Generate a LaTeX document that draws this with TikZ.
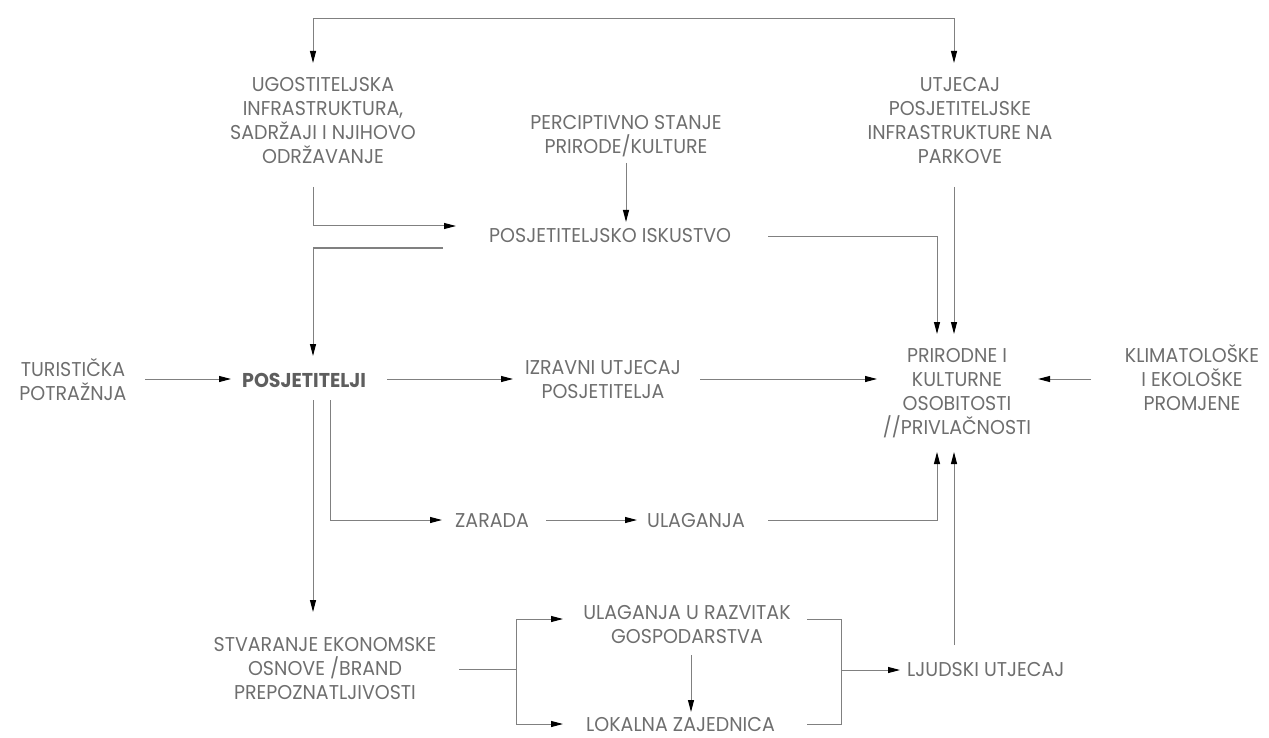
\documentclass[tikz,border=0pt]{standalone}
\usepackage{fontspec}
\setmainfont[FakeStretch=0.95]{Poppins}
\usetikzlibrary{arrows.meta}
\definecolor{txt}{HTML}{6E6E6E}
\definecolor{ln}{HTML}{808080}
\begin{document}
\begin{tikzpicture}[x=1pt,y=-1pt,
 lbl/.style={font=\fontsize{20}{24}\selectfont, text=txt, align=center, inner sep=0pt},
 con/.style={draw=ln, line width=1pt},
 arr/.style={con, -{Triangle[length=12pt,width=6pt,color=black]}},
 arrboth/.style={con, {Triangle[length=12pt,width=6pt,color=black]}-{Triangle[length=12pt,width=6pt,color=black]}}]
\useasboundingbox (0,0) rectangle (1269,738);

\node[lbl] (ugo) at (323,121) {UGOSTITELJSKA\\INFRASTRUKTURA,\\SADRŽAJI I NJIHOVO\\ODRŽAVANJE};
\node[lbl] (utj) at (960,121) {UTJECAJ\\POSJETITELJSKE\\INFRASTRUKTURE NA\\PARKOVE};
\node[lbl] (per) at (626,136) {PERCIPTIVNO STANJE\\PRIRODE/KULTURE};
\node[lbl,anchor=west] (isk) at (489,236) {POSJETITELJSKO ISKUSTVO};
\node[lbl] (tur) at (73,380) {TURISTIČKA\\POTRAŽNJA};
\node[lbl,anchor=west,font=\fontsize{20}{24}\selectfont\bfseries,text=txt!85!black] (pos) at (242,380) {POSJETITELJI};
\node[lbl] (izr) at (603,380) {IZRAVNI UTJECAJ\\POSJETITELJA};
\node[lbl] (pri) at (957,393) {PRIRODNE I\\KULTURNE\\OSOBITOSTI\\//PRIVLAČNOSTI};
\node[lbl] (kli) at (1192,378) {KLIMATOLOŠKE\\I EKOLOŠKE\\PROMJENE};
\node[lbl,anchor=west] (zar) at (455,521) {ZARADA};
\node[lbl,anchor=west] (ula) at (647,521) {ULAGANJA};
\node[lbl] (stv) at (325,669) {STVARANJE EKONOMSKE\\OSNOVE /BRAND\\PREPOZNATLJIVOSTI};
\node[lbl] (urg) at (687,625) {ULAGANJA U RAZVITAK\\GOSPODARSTVA};
\node[lbl,anchor=west] (lok) at (586,725) {LOKALNA ZAJEDNICA};
\node[lbl,anchor=west] (lju) at (907,670) {LJUDSKI UTJECAJ};

% coordinates
\coordinate (ugoin) at (313,63);
\coordinate (tl) at (313,19);
\coordinate (tr) at (954,19);
\coordinate (utjin) at (954,63);
\coordinate (ugoout) at (313,187);
\coordinate (iskin) at (456,226);
\coordinate (iskout1) at (443,248);
\coordinate (posin) at (313,356);
\coordinate (perout) at (626,163);
\coordinate (perin) at (626,222);
\coordinate (iskout2) at (768,237);
\coordinate (prin1) at (937,334);
\coordinate (utjout) at (954,187);
\coordinate (prin2) at (954,334);
\coordinate (turout) at (145,379);
\coordinate (posin2) at (231,379);
\coordinate (posout) at (387,379);
\coordinate (izrin) at (513,379);
\coordinate (izrout) at (700,379);
\coordinate (prin3) at (877,379);
\coordinate (kliout) at (1091,379);
\coordinate (prin4) at (1038,379);
\coordinate (posd1) at (313,400);
\coordinate (stvin) at (313,612);
\coordinate (posd2) at (330,400);
\coordinate (zarin) at (442,520);
\coordinate (zarout) at (546,520);
\coordinate (ulain) at (637,520);
\coordinate (ulaout) at (768,520);
\coordinate (prin5) at (937,452);
\coordinate (ljuout) at (954,645);
\coordinate (prin6) at (954,452);
\coordinate (stvout) at (459,669);
\coordinate (j1) at (516,669);
\coordinate (urgin) at (563,619);
\coordinate (lokin) at (563,724);
\coordinate (urgout) at (691,655);
\coordinate (lokin2) at (691,712);
\coordinate (urgr) at (807,619);
\coordinate (lokr) at (807,724);
\coordinate (j2) at (841,670);
\coordinate (ljuin) at (900,670);

\draw[arrboth] (ugoin) -- (tl) -- (tr) -- (utjin);
\draw[arr] (ugoout) |- (iskin);
\draw[arr] (iskout1) -| (posin);
\draw[arr] (perout) -- (perin);
\draw[arr] (iskout2) -| (prin1);
\draw[arr] (utjout) -- (prin2);
\draw[arr] (turout) -- (posin2);
\draw[arr] (posout) -- (izrin);
\draw[arr] (izrout) -- (prin3);
\draw[arr] (kliout) -- (prin4);
\draw[arr] (posd1) -- (stvin);
\draw[arr] (posd2) |- (zarin);
\draw[arr] (zarout) -- (ulain);
\draw[arr] (ulaout) -| (prin5);
\draw[arr] (ljuout) -- (prin6);
\draw[con] (stvout) -- (j1);
\draw[arr] (j1) |- (urgin);
\draw[arr] (j1) |- (lokin);
\draw[arr] (urgout) -- (lokin2);
\draw[con] (urgr) -| (j2) |- (lokr);
\draw[arr] (j2) -- (ljuin);
\end{tikzpicture}
\end{document}
